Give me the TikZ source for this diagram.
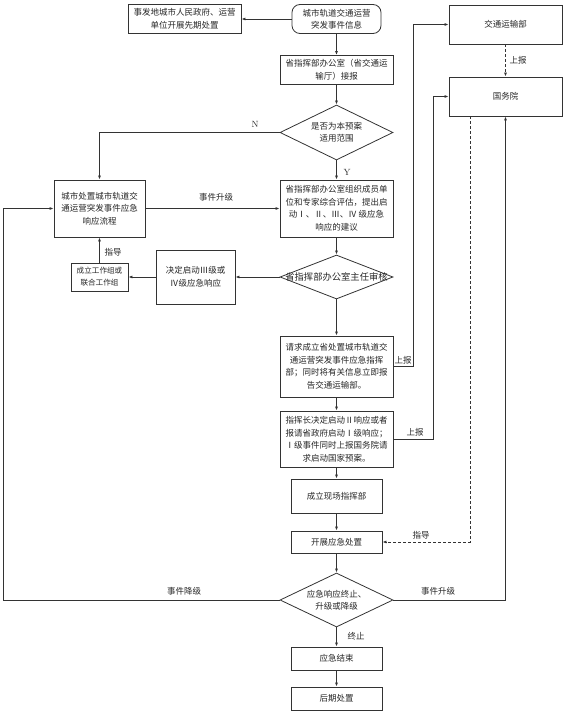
\documentclass[tikz,border=0pt]{standalone}
\usepackage{fontspec}
\newfontfamily\cjk{Noto Sans CJK SC}
\usetikzlibrary{arrows.meta,shapes.geometric}
\begin{document}
\begin{tikzpicture}[x=1pt,y=-1pt,
  bx/.style={draw=black!80, line width=0.8pt, inner sep=0pt, align=center, text=black!85, font=\cjk\fontsize{8.5}{12.5}\selectfont},
  dia/.style={draw=black!80, line width=0.8pt, diamond, inner sep=0pt},
  txt/.style={align=center, text=black!85, font=\cjk\fontsize{8.5}{12.5}\selectfont, inner sep=0pt},
  lbl/.style={text=black!85, font=\cjk\fontsize{8.5}{10}\selectfont, inner sep=0pt},
  arr/.style={draw=black!80, line width=0.8pt, -{Latex[length=4pt,width=3pt]}},
  dsh/.style={arr, dash pattern=on 3pt off 2pt},
]
\useasboundingbox (0,0) rectangle (564,714);
% main column
\node[bx, rounded corners=8pt, minimum width=89pt, minimum height=29pt] (start) at (336.5,19) {城市轨道交通运营\\突发事件信息};
\node[bx, minimum width=113pt, minimum height=29pt] (early) at (184.5,19) {事发地城市人民政府、运营\\单位开展先期处置};
\node[bx, minimum width=113pt, minimum height=29pt] (jiebao) at (336.5,70) {省指挥部办公室（省交通运\\输厅）接报};
\node[dia, minimum width=113pt, minimum height=55pt] (d1) at (336.5,132.5) {};
\node[txt] (d1t) at (d1.center) {是否为本预案\\适用范围};
\node[bx, minimum width=91pt, minimum height=57pt] (city) at (99.5,208.5) {城市处置城市轨道交\\通运营突发事件应急\\响应流程};
\node[bx, minimum width=113pt, minimum height=57pt] (assess) at (336.5,208.5) {省指挥部办公室组织成员单\\位和专家综合评估，提出启\\动Ⅰ、Ⅱ、Ⅲ、Ⅳ 级应急\\响应的建议};
\node[dia, minimum width=113pt, minimum height=44pt] (d2) at (336.5,277) {};
\node[txt, font=\cjk\fontsize{9.3}{12}\selectfont] (d2t) at (d2.center) {省指挥部办公室主任审核};
\node[bx, minimum width=79pt, minimum height=54pt] (decide) at (195.5,277) {决定启动Ⅲ级或\\Ⅳ级应急响应};
\node[bx, minimum width=57pt, minimum height=28pt, font=\cjk\fontsize{7.6}{12}\selectfont] (group) at (99.5,277) {成立工作组或\\联合工作组};
\node[bx, minimum width=113pt, minimum height=61pt] (request) at (336.5,366.5) {请求成立省处置城市轨道交\\通运营突发事件应急指挥\\部；同时将有关信息立即报\\告交通运输部。};
\node[bx, minimum width=113pt, minimum height=56pt] (commander) at (336.5,439) {指挥长决定启动Ⅱ响应或者\\报请省政府启动Ⅰ级响应；\\Ⅰ级事件同时上报国务院请\\求启动国家预案。};
\node[bx, minimum width=91pt, minimum height=34pt] (scene) at (336.5,496) {成立现场指挥部};
\node[bx, minimum width=91pt, minimum height=22pt] (handle) at (336.5,542) {开展应急处置};
\node[dia, minimum width=113pt, minimum height=54pt] (d3) at (336.5,600) {};
\node[txt] (d3t) at (d3.center) {应急响应终止、\\升级或降级};
\node[bx, minimum width=91pt, minimum height=23pt] (end) at (336.5,658.5) {应急结束};
\node[bx, minimum width=91pt, minimum height=23pt] (post) at (336.5,698.5) {后期处置};
% right column
\node[bx, minimum width=113pt, minimum height=39pt] (mot) at (505.5,24.5) {交通运输部};
\node[bx, minimum width=113pt, minimum height=39pt] (council) at (505.5,96.5) {国务院};
\coordinate (lft) at (3.6,600);
% connectors
\draw[arr] (start.west) -- (early.east);
\draw[arr] (start.south) -- (jiebao.north);
\draw[arr] (jiebao.south) -- (d1.north);
\draw[arr] (d1.west) -| (city.north);
\draw[arr] (d1.south) -- (assess.north);
\draw[arr] (city.east) -- (assess.west);
\draw[arr] (assess.south) -- (d2.north);
\draw[arr] (d2.west) -- (decide.east);
\draw[arr] (decide.west) -- (group.east);
\draw[arr] (group.north) -- (city.south);
\draw[arr] (d2.south) -- (request.north);
\draw[arr] (request.south) -- (commander.north);
\draw[arr] (commander.south) -- (scene.north);
\draw[arr] (scene.south) -- (handle.north);
\draw[arr] (handle.south) -- (d3.north);
\draw[arr] (d3.south) -- (end.north);
\draw[arr] (end.south) -- (post.north);
\draw[arr] (request.east) -- ++(20,0) |- (mot.west);
\draw[arr] (commander.east) -- ++(40,0) |- (council.west);
\draw[dsh] (mot.south) -- (council.north);
\draw[dsh] ([xshift=-35pt]council.south) |- (handle.east);
\draw[arr] (d3.east) -| (council.south);
\draw[arr] (d3.west) -- (lft) |- (city.west);
% labels
\node[inner sep=0pt, text=black!85, font=\fontsize{9}{10}\selectfont] (lN) at (255,124) {N};
\node[inner sep=0pt, text=black!85, font=\fontsize{9}{10}\selectfont] (lY) at (347,172) {Y};
\node[lbl] (l1) at (216,197) {事件升级};
\node[lbl] (l2) at (113,252) {指导};
\node[lbl] (l3) at (403,360) {上报};
\node[lbl] (l4) at (415,432) {上报};
\node[lbl] (l5) at (518,60) {上报};
\node[lbl] (l6) at (421,535) {指导};
\node[lbl] (l7) at (438,591) {事件升级};
\node[lbl] (l8) at (184,591) {事件降级};
\node[lbl] (l9) at (356,636) {终止};
\end{tikzpicture}
\end{document}
